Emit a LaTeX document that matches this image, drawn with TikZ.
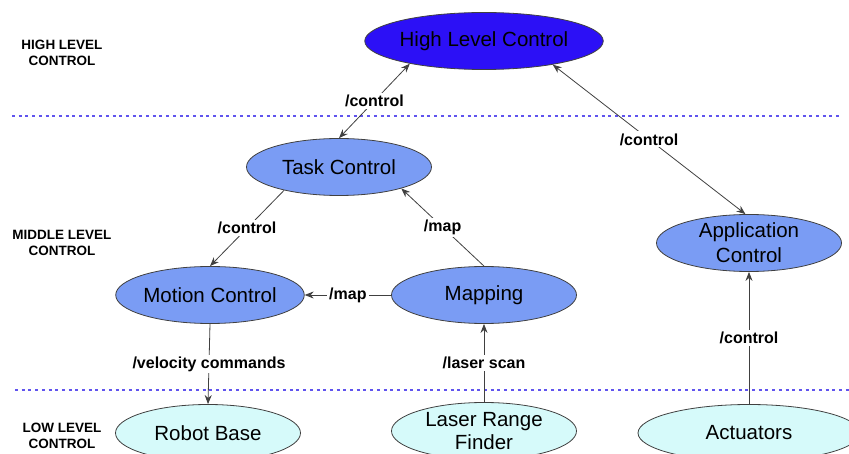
\documentclass[tikz,border=0pt]{standalone}
\usepackage{fontspec}
\setmainfont{Liberation Sans}
\usetikzlibrary{shapes.geometric,arrows.meta}
\definecolor{hiblue}{RGB}{44,16,246}
\definecolor{midblue}{RGB}{122,156,244}
\definecolor{lowcyan}{RGB}{214,250,250}
\definecolor{dotblue}{RGB}{96,84,238}

\begin{document}
\begin{tikzpicture}[x=1pt,y=-1pt,
  level/.style={ellipse,draw=black!75,line width=0.8pt,inner sep=0pt,
    minimum width=185pt,minimum height=57pt,align=center,
    font=\fontsize{20.5}{25}\selectfont},
  hinode/.style={level,fill=hiblue},
  midnode/.style={level,fill=midblue},
  lownode/.style={level,fill=lowcyan},
  layer/.style={align=center,font=\bfseries\fontsize{13.5}{15.5}\selectfont},
  sep/.style={dotblue,line width=2.6pt,dash pattern=on 3pt off 3.7pt},
  msg/.style={draw=black!75,line width=0.8pt,-{Stealth[length=9pt,width=7pt]}},
  msgboth/.style={msg,{Stealth[length=9pt,width=7pt]}-{Stealth[length=9pt,width=7pt]}},
  topic/.style={midway,fill=white,inner sep=2pt,font=\bfseries\fontsize{16}{18}\selectfont}]
\useasboundingbox (0,0) rectangle (849,454);
\clip (0,0) rectangle (849,454);

% layer separators and names
\draw[sep] (12,116) -- (842,116);
\draw[sep] (15,390) -- (849,390);
\node[layer] (hilabel)  at (62,53)  {HIGH LEVEL\\CONTROL};
\node[layer] (midlabel) at (62,243) {MIDDLE LEVEL\\CONTROL};
\node[layer] (lowlabel) at (62,436) {LOW LEVEL\\CONTROL};

% nodes
\node[hinode]  (high)    at (484,41)  {High Level Control};
\node[midnode] (task)    at (339,167) {Task Control};
\node[midnode] (motion)  at (210,295) {Motion Control};
\node[midnode] (mapping) at (484,295) {Mapping};
\node[midnode] (app)     at (749,243) {Application\\Control};
\node[lownode] (robot)   at (208,433) {Robot Base};
\node[lownode,font=\fontsize{20.5}{23.5}\selectfont] (laser) at (484,431) {Laser Range\\Finder};
\node[lownode,minimum width=222pt] (act) at (749,433) {Actuators};

% topics
\draw[msgboth] (task.north) -- (high.197) node[topic]{/control};
\draw[msgboth] (app.97) -- (high.341) node[topic]{/control};
\draw[msg] (task.203) -- (motion.north) node[topic]{/control};
\draw[msg] (mapping.north) -- (task.341) node[topic]{/map};
\draw[msg] (mapping.west) -- (motion.east) node[topic]{/map};
\draw[msg] (motion.south) -- (robot.north) node[topic]{/velocity commands};
\draw[msg] (laser.north) -- (mapping.south) node[topic]{/laser scan};
\draw[msg] (act.north) -- (app.south) node[topic]{/control};
\end{tikzpicture}
\end{document}
